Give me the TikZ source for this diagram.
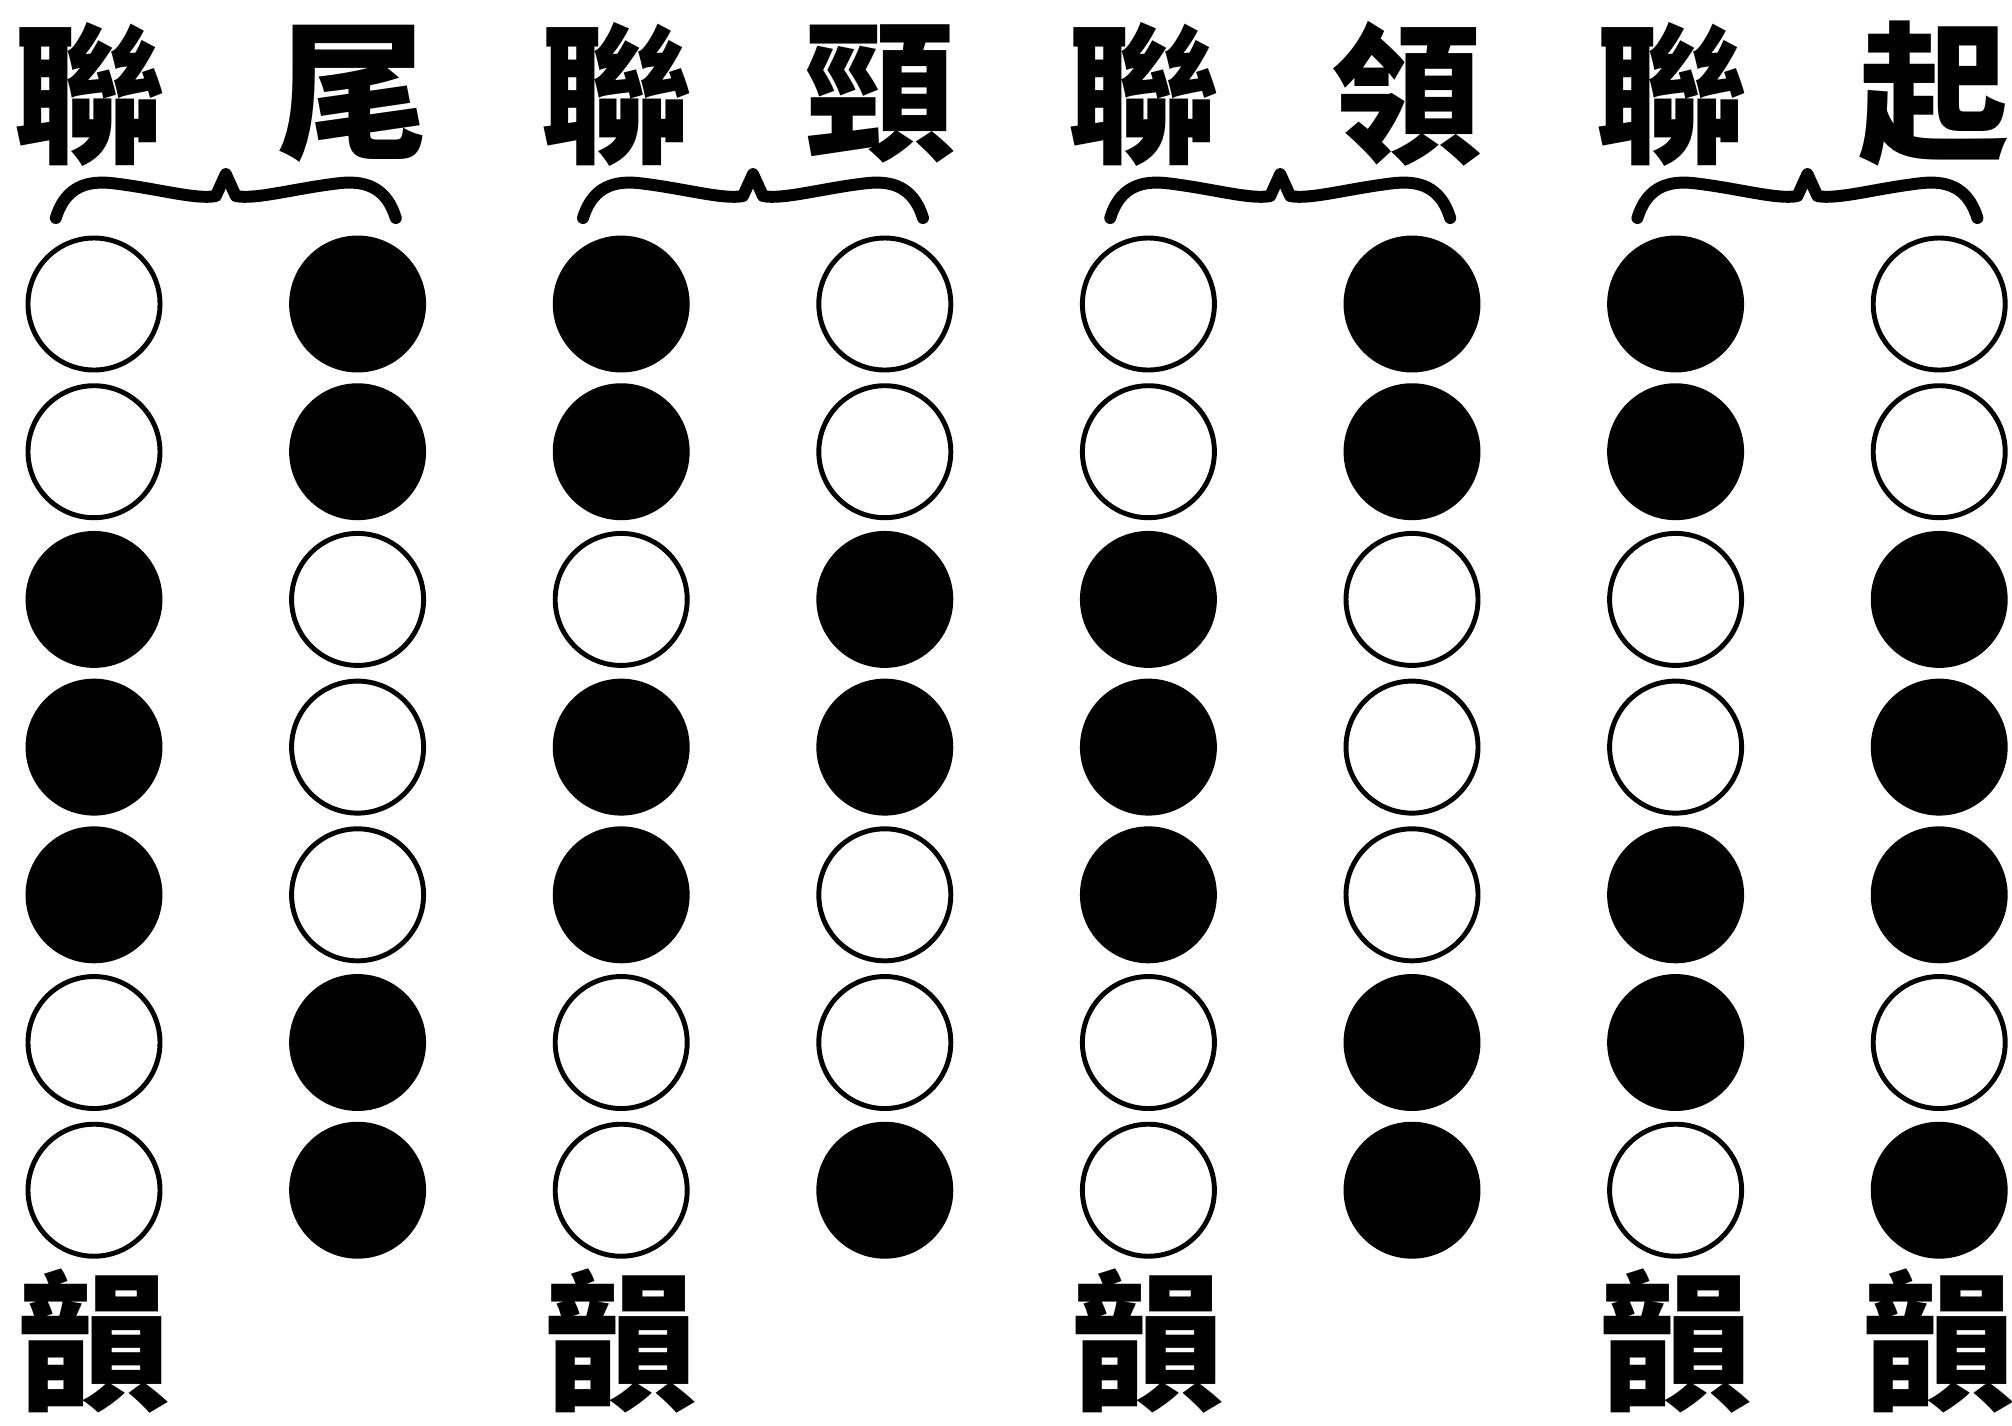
\documentclass[tikz,border=0pt]{standalone}
\usepackage{fontspec}
\newfontfamily\cjk{Noto Sans CJK TC}
\usetikzlibrary{positioning,calc}

\begin{document}
\begin{tikzpicture}[
    cell0/.style={circle,draw=black,line width=1.4pt,minimum size=1.32cm,inner sep=0pt},
    cell1/.style={cell0,fill=black},
    hanzi/.style={font=\cjk\bfseries\fontsize{43}{43}\selectfont,inner sep=0pt},
    bracestroke/.style={line width=3.4pt,line cap=round,line join=round}
  ]
    \useasboundingbox (0,0) rectangle (20.12,-14.25);

    % tone columns, right to left in reading order
    \foreach \i/\pat/\head in {1/{0,0,1,1,1,0,0}/聯, 2/{1,1,0,0,0,1,1}/尾,
                               3/{1,1,0,1,1,0,0}/聯, 4/{0,0,1,1,0,0,1}/頸,
                               5/{0,0,1,1,1,0,0}/聯, 6/{1,1,0,0,0,1,1}/領,
                               7/{1,1,0,0,1,1,0}/聯, 8/{0,0,1,1,1,0,1}/起}{
      \pgfmathsetmacro{\cx}{0.94+2.636*(\i-1)}
      \node[hanzi] (h-\i) at (\cx-0.05,-0.94) {\head};
      \foreach \f [count=\j] in \pat {
        \pgfmathsetmacro{\cy}{-3.04-1.477*(\j-1)}
        \node[cell\f] (d-\i-\j) at (\cx,\cy) {};
      }
    }

    % rhyme marks
    \foreach \i in {1,3,5,7,8}
      \node[hanzi] (yun-\i) at ($(d-\i-7)+(0,-1.51)$) {韻};

    % braces over each couplet
    \foreach \k in {1,2,3,4}{
      \pgfmathsetmacro{\mx}{0.94+2.636*(2*\k-1.5)}
      \draw[bracestroke,shift={(\mx,0)}]
        (-1.70,-2.18) .. controls (-1.62,-1.92) and (-1.45,-1.80) .. (-1.15,-1.83)
        .. controls (-0.70,-1.88) and (-0.30,-2.00) .. (-0.10,-1.96)
        -- (0,-1.74) -- (0.10,-1.96)
        .. controls (0.30,-2.00) and (0.70,-1.88) .. (1.15,-1.83)
        .. controls (1.45,-1.80) and (1.62,-1.92) .. (1.70,-2.18);
    }
  \end{tikzpicture}
\end{document}
